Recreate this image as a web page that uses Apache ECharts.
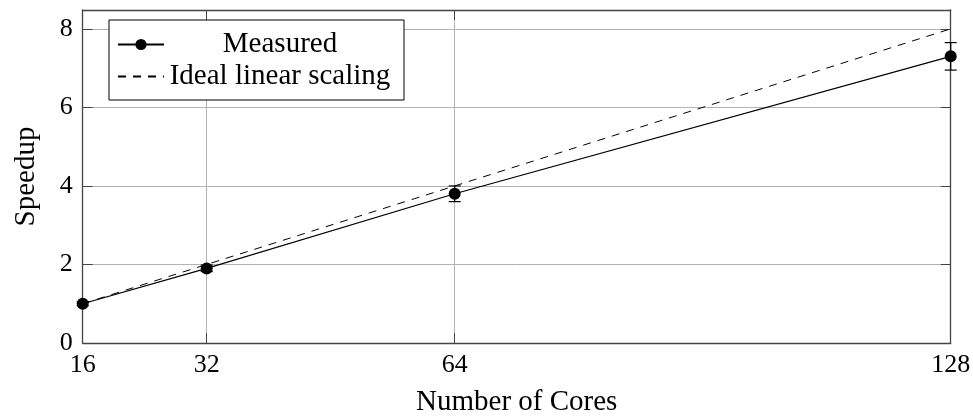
<!DOCTYPE html>
<html>
<head>
<meta charset="utf-8">
<script src="https://cdn.jsdelivr.net/npm/echarts@6/dist/echarts.min.js"></script>
<style>html,body{margin:0;padding:0;background:#fff;}#c{width:973px;height:416px;}</style>
</head>
<body>
<div id="c"></div>
<script>
const cores = [16, 32, 64, 128];
const measured = [1.0, 1.9, 3.8, 7.3];
const measuredErr = [0.05, 0.08, 0.2, 0.35];
const ideal = [1, 2, 4, 8];
const xTicks = [16, 32, 64, 128];
const yTicks = [0, 2, 4, 6, 8];

const FONT = 'Liberation Serif';
const chart = echarts.init(document.getElementById('c'), null, {renderer: 'canvas'});

const axisLineColor = '#444';
const gridColor = '#b3b3b3';

function xAxisCfg(isMain) {
  return {
    type: 'value', min: 16, max: 128,
    position: isMain ? 'bottom' : 'top',
    name: isMain ? 'Number of Cores' : '',
    nameLocation: 'middle', nameGap: 45,
    nameTextStyle: {fontFamily: FONT, fontSize: 29, color: '#000'},
    axisLine: {show: true, onZero: false, lineStyle: {color: axisLineColor, width: 1.3}},
    axisTick: {show: true, inside: true, length: 10, customValues: xTicks, lineStyle: {color: axisLineColor, width: 1}},
    axisLabel: {show: isMain, customValues: xTicks, margin: 9, fontFamily: FONT, fontSize: 26, color: '#000'},
    splitLine: {show: isMain, lineStyle: {color: gridColor, width: 1}}
  };
}
function yAxisCfg(isMain) {
  return {
    type: 'value', min: 0, max: 8.48, interval: 2,
    position: isMain ? 'left' : 'right',
    name: isMain ? 'Speedup' : '',
    nameLocation: 'middle', nameGap: 42,
    nameTextStyle: {fontFamily: FONT, fontSize: 29, color: '#000'},
    axisLine: {show: true, onZero: false, lineStyle: {color: axisLineColor, width: 1.3}},
    axisTick: {show: true, inside: true, length: 10, customValues: yTicks, lineStyle: {color: axisLineColor, width: 1}},
    axisLabel: {show: isMain, customValues: yTicks, margin: 10, fontFamily: FONT, fontSize: 26, color: '#000'},
    splitLine: {show: isMain, lineStyle: {color: gridColor, width: 1}}
  };
}

const measuredData = cores.map((c, i) => [c, measured[i]]);
const idealData = cores.map((c, i) => [c, ideal[i]]);
const errData = cores.map((c, i) => [c, measured[i] - measuredErr[i], measured[i] + measuredErr[i]]);

chart.setOption({
  animation: false,
  backgroundColor: '#fff',
  grid: {left: 82.7, right: 22.3, top: 10, bottom: 73, containLabel: false, outerBoundsMode: 'none'},
  xAxis: [xAxisCfg(true), xAxisCfg(false)],
  yAxis: [yAxisCfg(true), yAxisCfg(false)],
  legend: {
    orient: 'vertical', left: 109, top: 20,
    padding: [10, 13, 9, 8], itemGap: 3,
    itemWidth: 46, itemHeight: 14, itemTextGap: 5,
    borderColor: '#000', borderWidth: 1, backgroundColor: '#fff',
    data: [
      {name: 'Measured'},
      {name: 'Ideal linear scaling', itemStyle: {opacity: 0}}
    ],
    formatter: name => '{a|' + name + '}',
    textStyle: {
      fontFamily: FONT, fontSize: 29, color: '#000',
      rich: {a: {fontFamily: FONT, fontSize: 29, width: 222, align: 'center', lineHeight: 32}}
    }
  },
  series: [
    {
      name: 'Ideal linear scaling', type: 'line', data: idealData,
      showSymbol: false, symbol: 'none',
      lineStyle: {color: '#000', width: 1, type: [8, 7]},
      itemStyle: {color: '#000'}, z: 2
    },
    {
      name: 'Measured', type: 'line', data: measuredData,
      symbol: 'circle', symbolSize: 12,
      lineStyle: {color: '#000', width: 1.2},
      itemStyle: {color: '#000'}, z: 3
    },
    {
      name: 'err', type: 'custom', data: errData, z: 4,
      encode: {x: 0, y: [1, 2]},
      renderItem: function (params, api) {
        const x = api.value(0);
        const lo = api.coord([x, api.value(1)]);
        const hi = api.coord([x, api.value(2)]);
        const cw = 6;
        const st = {stroke: '#000', lineWidth: 1.2};
        return {
          type: 'group',
          children: [
            {type: 'line', shape: {x1: lo[0], y1: lo[1], x2: hi[0], y2: hi[1]}, style: st},
            {type: 'line', shape: {x1: lo[0] - cw, y1: lo[1], x2: lo[0] + cw, y2: lo[1]}, style: st},
            {type: 'line', shape: {x1: hi[0] - cw, y1: hi[1], x2: hi[0] + cw, y2: hi[1]}, style: st}
          ]
        };
      }
    }
  ]
});
</script>
</body>
</html>
